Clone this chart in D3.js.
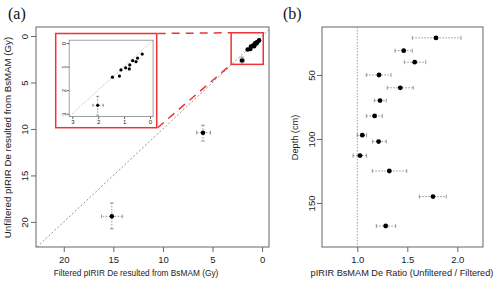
<!DOCTYPE html>
<html><head><meta charset="utf-8">
<script src="https://cdn.jsdelivr.net/npm/d3@7"></script>
<style>body{margin:0;background:#fff}svg{display:block}text{font-family:"Liberation Sans",Arial,sans-serif}</style>
</head><body>
<script>
// ---- Panel (a) data ----
const filtered   = [0.30,0.48,0.54,0.67,0.78,0.80,0.94,1.12,1.18,1.45,2.02,5.96,15.15];
const unfiltered = [0.47,0.64,0.79,0.75,0.93,1.10,1.05,1.14,1.40,1.45,2.64,10.4,19.4];
const filteredLo   = [null,null,null,null,null,null,null,null,null,null,1.80,5.2,14.1];
const filteredHi   = [null,null,null,null,null,null,null,null,null,null,2.21,6.6,16.2];
const unfilteredLo = [null,null,null,null,null,null,null,null,null,null,2.26,9.6,17.96];
const unfilteredHi = [null,null,null,null,null,null,null,null,null,null,3.06,11.3,20.75];
const mainTicks = [0,5,10,15,20];
const insetTicks = [0,1,2,3];
// ---- Panel (b) data ----
const depth   = [21,31,40,50,60,70,82,97,102,113,125,145,168];
const ratio   = [1.787,1.464,1.574,1.217,1.43,1.227,1.173,1.05,1.213,1.027,1.32,1.757,1.284];
const ratioLo = [1.55,1.377,1.47,1.09,1.30,1.17,1.09,1.0,1.153,0.957,1.15,1.62,1.19];
const ratioHi = [2.037,1.55,1.684,1.337,1.56,1.29,1.25,1.093,1.29,1.093,1.494,1.89,1.384];
const ratioTicks = [1.0,1.5,2.0];
const depthTicks = [50,100,150];

const W=500,H=288;
const svg=d3.select("body").append("svg").attr("width",W).attr("height",H);
const axCol="#666", txtCol="#222", errCol="#777";

function errH(g,x,y,lo,hi,col,cap){
  g.append("line").attr("x1",x(lo)).attr("x2",x(hi)).attr("y1",y).attr("y2",y)
   .attr("stroke",col).attr("stroke-width",0.8).attr("stroke-dasharray","1.5,1.5");
  [lo,hi].forEach(v=>g.append("line").attr("x1",x(v)).attr("x2",x(v)).attr("y1",y-cap).attr("y2",y+cap)
   .attr("stroke",col).attr("stroke-width",0.7));
}
function errV(g,x,y,lo,hi,col,cap){
  g.append("line").attr("y1",y(lo)).attr("y2",y(hi)).attr("x1",x).attr("x2",x)
   .attr("stroke",col).attr("stroke-width",0.8).attr("stroke-dasharray","1.5,1.5");
  [lo,hi].forEach(v=>g.append("line").attr("y1",y(v)).attr("y2",y(v)).attr("x1",x-cap).attr("x2",x+cap)
   .attr("stroke",col).attr("stroke-width",0.7));
}
function styleAxis(g,fs){
  g.select(".domain").remove();
  g.selectAll(".tick line").attr("stroke",axCol);
  g.selectAll(".tick text").attr("fill",txtCol).style("font-size",fs+"px");
}

// ===== Panel (a) =====
const ax=d3.scaleLinear().domain([22.8,-0.7]).range([36,269]);
const ay=d3.scaleLinear().domain([-0.97,22.7]).range([27,247]);
const ga=svg.append("g");
ga.append("rect").attr("x",36).attr("y",27).attr("width",233).attr("height",220)
  .attr("fill","none").attr("stroke",axCol).attr("stroke-width",1);
// diagonal
ga.append("line").attr("x1",ax(-0.7)).attr("y1",ay(-0.7)).attr("x2",ax(22.7)).attr("y2",ay(22.7))
  .attr("stroke","#777").attr("stroke-width",0.8).attr("stroke-dasharray","2,2");
// axes
const gxa=ga.append("g").attr("transform","translate(0,247)")
  .call(d3.axisBottom(ax).tickValues(mainTicks).tickSize(5).tickPadding(4));
styleAxis(gxa,9.5);
const gya=ga.append("g").attr("transform","translate(36,0)")
  .call(d3.axisLeft(ay).tickValues(mainTicks).tickSize(5).tickPadding(0));
styleAxis(gya,9.5);
gya.selectAll(".tick text").attr("text-anchor","middle").attr("x",0).attr("dy",0)
  .attr("transform","translate(-12,0) rotate(-90)").attr("dominant-baseline","central");

ga.append("text").attr("x",136).attr("y",276).attr("text-anchor","middle").attr("fill",txtCol)
  .style("font-size","8.3px").text("Filtered pIRIR De resulted from BsMAM (Gy)");
ga.append("text").attr("transform","translate(11,137.5) rotate(-90)").attr("text-anchor","middle").attr("fill",txtCol)
  .style("font-size","9.7px").text("Unfiltered pIRIR De resulted from BsMAM (Gy)");
svg.append("text").attr("x",8).attr("y",19).style("font-family","'Liberation Serif',serif")
  .style("font-size","16px").attr("fill","#111").text("(a)");

// error bars + points main
filtered.forEach((f,i)=>{
  if(filteredLo[i]!=null){
    errH(ga,ax,ay(unfiltered[i]),filteredLo[i],filteredHi[i],errCol,2);
    errV(ga,ax(f),ay,unfilteredLo[i],unfilteredHi[i],errCol,2);
  }
});
ga.selectAll("circle.p").data(filtered).join("circle").attr("class","p")
  .attr("cx",d=>ax(d)).attr("cy",(d,i)=>ay(unfiltered[i])).attr("r",2.3).attr("fill","#000");

// inset scales
const ix=d3.scaleLinear().domain([3.12,-0.12]).range([69.2,153.1]);
const iy=d3.scaleLinear().domain([-0.12,3.12]).range([40.2,116.6]);
const red="#ee3333";
// rect on main plot
ga.append("rect").attr("x",ax(3.12)).attr("y",ay(-0.35)).attr("width",ax(-0.12)-ax(3.12))
  .attr("height",ay(3.05)-ay(-0.35)).attr("fill","none").attr("stroke",red).attr("stroke-width",1.5);
// inset outer red box
const ib={x0:55.7,y0:33.5,x1:156.7,y1:127.7};
ga.append("rect").attr("x",ib.x0).attr("y",ib.y0).attr("width",ib.x1-ib.x0).attr("height",ib.y1-ib.y0)
  .attr("fill","#fff").attr("stroke",red).attr("stroke-width",1.5);
// connectors
ga.append("line").attr("x1",ib.x1+1).attr("y1",ib.y0).attr("x2",ax(3.12)).attr("y2",ay(-0.35))
  .attr("stroke",red).attr("stroke-width",1.5).attr("stroke-dasharray","8,6");
ga.append("line").attr("x1",ib.x1+1).attr("y1",ib.y1).attr("x2",ax(3.12)).attr("y2",ay(3.05))
  .attr("stroke",red).attr("stroke-width",1.5).attr("stroke-dasharray","8,6");
// inset plot
const gi=ga.append("g");
gi.append("rect").attr("x",69.2).attr("y",40.2).attr("width",153.1-69.2).attr("height",116.6-40.2)
  .attr("fill","none").attr("stroke","#888").attr("stroke-width",0.8);
gi.append("line").attr("x1",ix(-0.12)).attr("y1",iy(-0.12)).attr("x2",ix(3.12)).attr("y2",iy(3.12))
  .attr("stroke","#999").attr("stroke-width",0.6).attr("stroke-dasharray","1.5,1.5");
const gix=gi.append("g").attr("transform","translate(0,116.6)")
  .call(d3.axisBottom(ix).tickValues(insetTicks).tickFormat(d3.format("d")).tickSize(2.5).tickPadding(1));
styleAxis(gix,6);
const giy=gi.append("g").attr("transform","translate(69.2,0)")
  .call(d3.axisLeft(iy).tickValues(insetTicks).tickFormat(d3.format("d")).tickSize(2.5).tickPadding(0));
styleAxis(giy,6);
giy.selectAll(".tick text").attr("text-anchor","middle").attr("x",0).attr("dy",0)
  .attr("transform","translate(-5.5,0) rotate(-90)").attr("dominant-baseline","central");
filtered.forEach((f,i)=>{
  if(f<=3.12 && filteredLo[i]!=null){
    errH(gi,ix,iy(unfiltered[i]),filteredLo[i],filteredHi[i],errCol,1.5);
    errV(gi,ix(f),iy,unfilteredLo[i],unfilteredHi[i],errCol,1.5);
  }
});
gi.selectAll("circle").data(filtered.map((f,i)=>[f,unfiltered[i]]).filter(d=>d[0]<=3.12)).join("circle")
  .attr("cx",d=>ix(d[0])).attr("cy",d=>iy(d[1])).attr("r",1.6).attr("fill","#000");

// ===== Panel (b) =====
const bx=d3.scaleLinear().domain([0.647,2.257]).range([322,483]);
const by=d3.scaleLinear().domain([12.5,184.4]).range([27,247]);
const gb=svg.append("g");
gb.append("rect").attr("x",322).attr("y",27).attr("width",161).attr("height",220)
  .attr("fill","none").attr("stroke",axCol).attr("stroke-width",1);
gb.append("line").attr("x1",bx(1)).attr("x2",bx(1)).attr("y1",27).attr("y2",247)
  .attr("stroke","#888").attr("stroke-width",0.8).attr("stroke-dasharray","1.5,1.5");
const gxb=gb.append("g").attr("transform","translate(0,247)")
  .call(d3.axisBottom(bx).tickValues(ratioTicks).tickFormat(d3.format(".1f")).tickSize(5).tickPadding(4));
styleAxis(gxb,9.5);
const gyb=gb.append("g").attr("transform","translate(322,0)")
  .call(d3.axisLeft(by).tickValues(depthTicks).tickSize(5).tickPadding(0));
styleAxis(gyb,9.5);
gyb.selectAll(".tick text").attr("text-anchor","middle").attr("x",0).attr("dy",0)
  .attr("transform","translate(-11,0) rotate(-90)").attr("dominant-baseline","central");
gb.append("text").attr("x",402).attr("y",276).attr("text-anchor","middle").attr("fill",txtCol)
  .style("font-size","9.2px").text("pIRIR BsMAM De Ratio (Unfiltered / Filtered)");
gb.append("text").attr("transform","translate(298,137.5) rotate(-90)").attr("text-anchor","middle").attr("fill",txtCol)
  .style("font-size","9.2px").text("Depth (cm)");
svg.append("text").attr("x",283).attr("y",19).style("font-family","'Liberation Serif',serif")
  .style("font-size","16px").attr("fill","#111").text("(b)");
depth.forEach((d,i)=>errH(gb,bx,by(d),ratioLo[i],ratioHi[i],errCol,2));
gb.selectAll("circle").data(depth).join("circle")
  .attr("cx",(d,i)=>bx(ratio[i])).attr("cy",d=>by(d)).attr("r",2.4).attr("fill","#000");
</script>
</body></html>
